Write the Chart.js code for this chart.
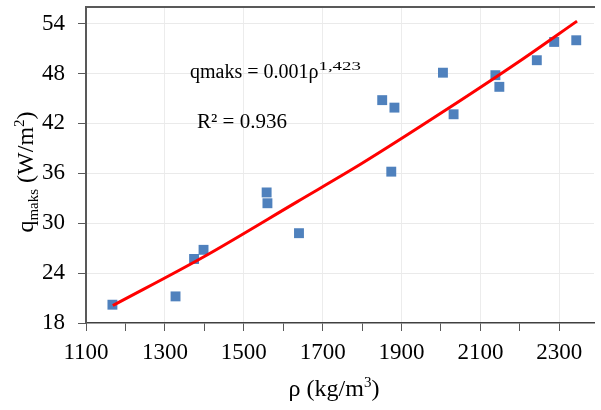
<!DOCTYPE html>
<html>
<head>
<meta charset="utf-8">
<script src="https://cdn.jsdelivr.net/npm/chart.js@4.4.1/dist/chart.umd.min.js"></script>
<style>
  html, body { margin: 0; padding: 0; background: #fff; overflow: hidden; }
</style>
</head>
<body>
<canvas id="grafik" width="601" height="410"></canvas>
<script>
// measured points
const rho = [1167, 1327, 1374, 1398, 1558, 1560, 1640, 1851, 1882, 1874, 2005, 2032, 2138, 2148, 2243, 2287, 2343];
const qmaks = [20.2, 21.2, 25.7, 26.8, 33.7, 32.4, 28.8, 44.8, 43.9, 36.2, 48.1, 43.1, 47.8, 46.4, 49.6, 51.8, 52.0];

// power trendline
const trendRho = [1168, 1400, 1636, 1800, 2012, 2200, 2345];
const trendQ = [20.1, 26.0, 32.6, 37.2, 43.6, 49.5, 54.3];

const xTickLabels = [1100, 1300, 1500, 1700, 1900, 2100, 2300];
const yTickLabels = [18, 24, 30, 36, 42, 48, 54];

const serif = 'Liberation Serif';

// draws text pieces with sub/superscripts: [text, size, dy, xscale]
function richText(ctx, parts, x, y, align) {
  let total = 0;
  parts.forEach(p => {
    ctx.font = p[1] + 'px "' + serif + '"';
    total += ctx.measureText(p[0]).width * (p[3] || 1);
  });
  let cx = align === 'center' ? x - total / 2 : x;
  parts.forEach(p => {
    const sx = p[3] || 1;
    ctx.font = p[1] + 'px "' + serif + '"';
    ctx.save();
    ctx.translate(cx, y + (p[2] || 0));
    ctx.scale(sx, 1);
    ctx.fillText(p[0], 0, 0);
    ctx.restore();
    cx += ctx.measureText(p[0]).width * sx;
  });
}

const extras = {
  id: 'extras',
  afterDraw(chart) {
    const ctx = chart.ctx;
    const a = chart.chartArea;
    ctx.save();
    // top frame line
    ctx.strokeStyle = '#595959';
    ctx.lineWidth = 2;
    ctx.beginPath();
    ctx.moveTo(a.left - 1, a.top);
    ctx.lineTo(a.right + 1, a.top);
    ctx.stroke();

    ctx.fillStyle = '#000';
    ctx.textBaseline = 'alphabetic';
    ctx.textAlign = 'left';
    richText(ctx, [['qmaks = 0.001ρ', 20], ['1,423', 13, -8, 1.45]], 190, 78, 'left');
    richText(ctx, [['R² = 0.936', 21]], 197, 128, 'left');

    // axis titles
    richText(ctx, [['ρ (kg/m', 24], ['3', 15, -9], [')', 24]], 334, 396, 'center');
    ctx.translate(33, 172);
    ctx.rotate(-Math.PI / 2);
    richText(ctx, [['q', 24], ['maks', 15, 5], [' (W/m', 24], ['2', 15, -9], [')', 24]], 0, 0, 'center');
    ctx.restore();
  }
};

new Chart(document.getElementById('grafik'), {
  type: 'scatter',
  data: {
    datasets: [{
      label: 'trend',
      type: 'line',
      data: trendRho.map((v, i) => ({ x: v, y: trendQ[i] })),
      borderColor: '#ff0000',
      borderWidth: 3,
      pointRadius: 0,
      cubicInterpolationMode: 'monotone',
      fill: false,
      order: 0
    }, {
      label: 'qmaks',
      data: rho.map((v, i) => ({ x: v, y: qmaks[i] })),
      pointStyle: 'rect',
      pointRadius: 7,
      backgroundColor: '#4f81bd',
      borderColor: '#4f81bd',
      borderWidth: 0,
      order: 1
    }]
  },
  options: {
    responsive: false,
    animation: false,
    layout: { padding: { top: 4, right: 1, left: 0, bottom: 0 } },
    plugins: { legend: { display: false }, tooltip: { enabled: false } },
    scales: {
      x: {
        type: 'linear',
        min: 1100,
        max: 2388,
        afterFit: s => { s.height = 87; s.paddingLeft = 0; s.paddingRight = 0; },
        ticks: {
          stepSize: 100,
          includeBounds: false,
          autoSkip: false,
          maxRotation: 0,
          padding: 8,
          color: '#000',
          font: { family: serif, size: 23 },
          callback: v => xTickLabels.includes(v) ? v : ''
        },
        grid: {
          color: c => (c.tick && xTickLabels.includes(c.tick.value) && c.tick.value !== 1100) ? '#ececec' : 'rgba(0,0,0,0)',
          tickColor: '#595959',
          tickLength: 8
        },
        border: { color: '#404040', width: 1.5 }
      },
      y: {
        min: 18,
        max: 56,
        afterFit: s => { s.width = 86; s.paddingTop = 0; s.paddingBottom = 0; },
        ticks: {
          stepSize: 3,
          includeBounds: false,
          padding: 13,
          color: '#000',
          font: { family: serif, size: 23 },
          callback: v => yTickLabels.includes(v) ? v : ''
        },
        grid: {
          color: c => (c.tick && c.tick.value !== 18) ? '#eaeaea' : 'rgba(0,0,0,0)',
          tickColor: '#595959',
          tickLength: 8
        },
        border: { color: '#595959', width: 2 }
      }
    }
  },
  plugins: [extras]
});
</script>
</body>
</html>
